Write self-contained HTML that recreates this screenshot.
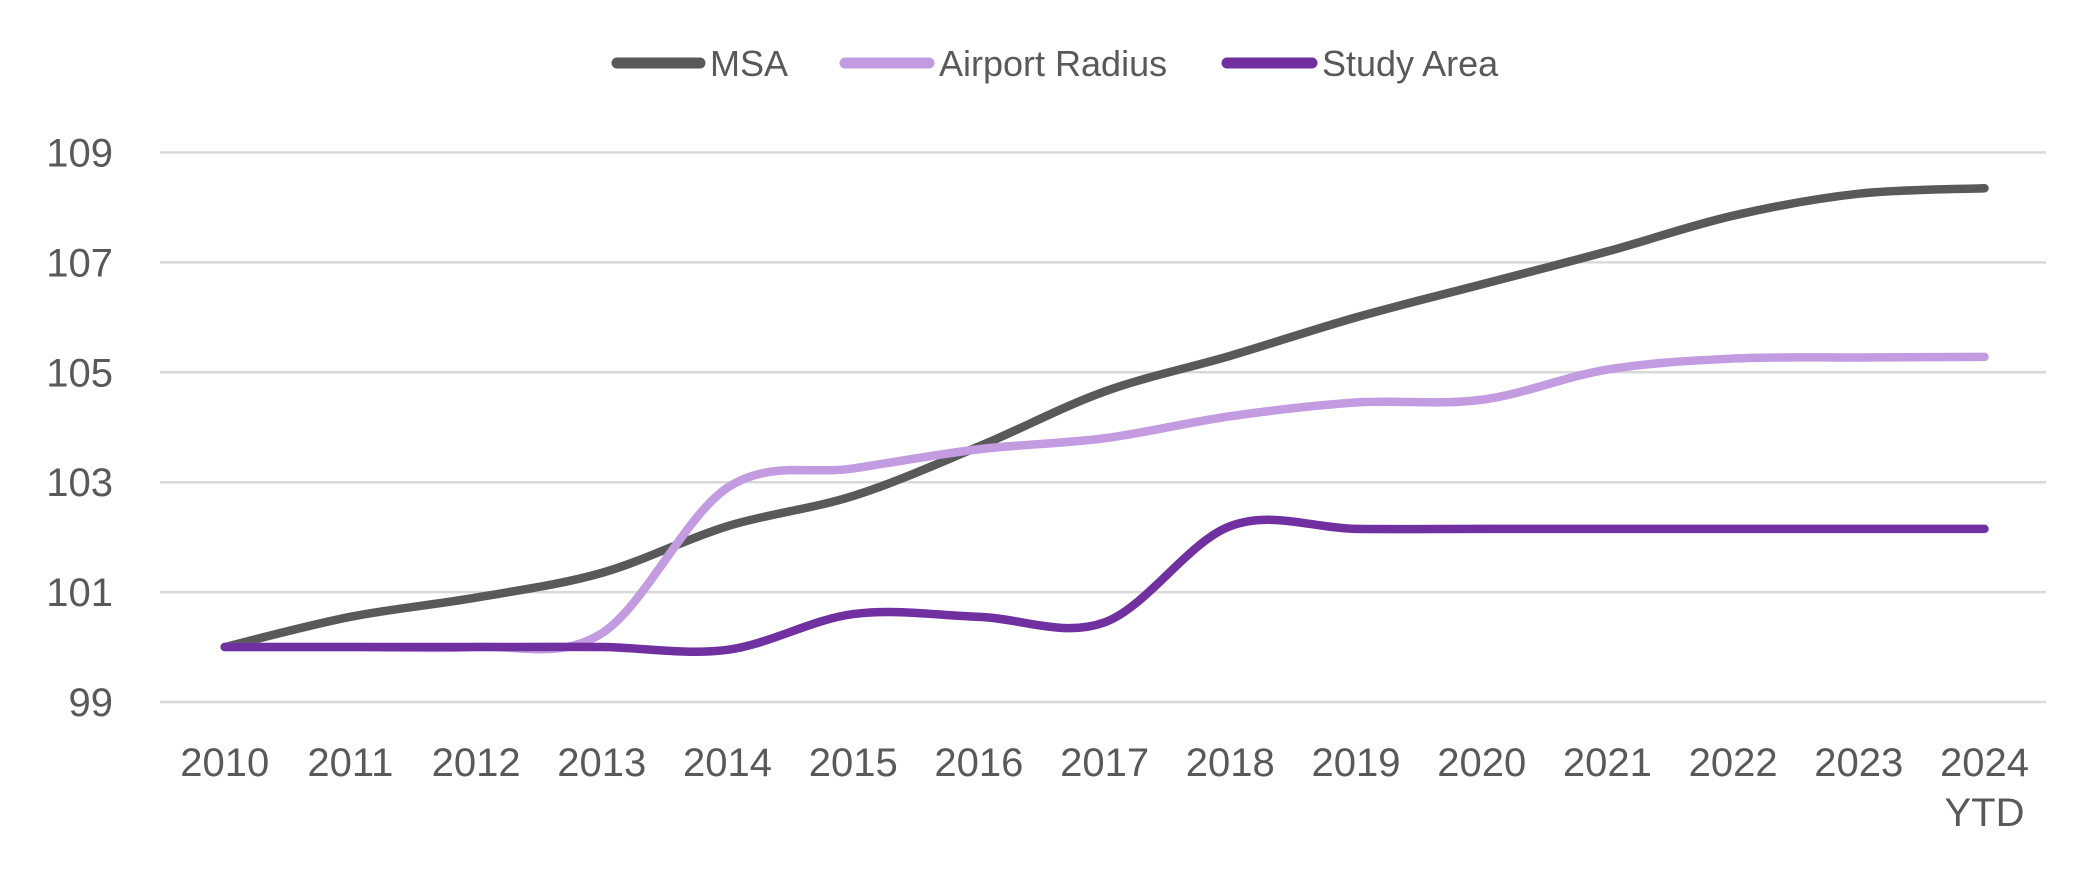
<!DOCTYPE html>
<html><head><meta charset="utf-8"><style>
html,body{margin:0;padding:0;background:#fff;}
svg{display:block;font-family:"Liberation Sans",sans-serif;}
</style></head><body>
<svg id="chart" width="2097" height="870">
  <g id="legend">
    <g>
      <line x1="617" y1="63" x2="700" y2="63" stroke="#595959" stroke-width="11" stroke-linecap="round"/>
      <text x="710" y="76" font-size="36" fill="#595959">MSA</text>
    </g>
    <g>
      <line x1="845" y1="63" x2="929" y2="63" stroke="#c39be0" stroke-width="11" stroke-linecap="round"/>
      <text x="939" y="76" font-size="36" fill="#595959">Airport Radius</text>
    </g>
    <g>
      <line x1="1227" y1="63" x2="1312" y2="63" stroke="#7030a0" stroke-width="11" stroke-linecap="round"/>
      <text x="1322" y="76" font-size="36" fill="#595959">Study Area</text>
    </g>
  </g>
  <g id="grid"></g>
  <g id="yaxis"></g>
  <g id="xaxis"></g>
  <g id="series"></g>
</svg>
<script>
const categories = ["2010","2011","2012","2013","2014","2015","2016","2017","2018","2019","2020","2021","2022","2023","2024"];
const yTicks = [99,101,103,105,107,109];
const msa = [100,100.55,100.9,101.35,102.2,102.75,103.65,104.65,105.3,106.0,106.6,107.2,107.85,108.25,108.35];
const airport = [100,100,100,100.25,102.9,103.25,103.6,103.8,104.2,104.45,104.5,105.05,105.25,105.27,105.28];
const study = [100,100,100,100,99.95,100.6,100.55,100.45,102.2,102.15,102.15,102.15,102.15,102.15,102.15];

const NS="http://www.w3.org/2000/svg";
const left=160, right=2046, x0=224.7, step=125.7;
const yTop=152.5, yBot=702, vTop=109, vBot=99;
const xs=i=>x0+i*step;
const ys=v=>yBot-(v-vBot)/(vTop-vBot)*(yBot-yTop);
function mk(t,a,p){const e=document.createElementNS(NS,t);for(const k in a)e.setAttribute(k,a[k]);p.appendChild(e);return e;}
const grid=document.getElementById('grid'), ya=document.getElementById('yaxis'), xa=document.getElementById('xaxis'), ser=document.getElementById('series');
yTicks.forEach(v=>{
  const l=mk('line',{x1:left,x2:right,y1:ys(v),y2:ys(v),stroke:'#d9d9d9','stroke-width':2.5},grid);
  
  
  const t=mk('text',{x:113,y:ys(v)+14,'text-anchor':'end','font-size':40,fill:'#595959'},ya);
  t.textContent=v;
  
  
});
categories.forEach((c,i)=>{
  const t=mk('text',{x:xs(i),y:776,'text-anchor':'middle','font-size':40,fill:'#595959'},xa);
  t.textContent=c;
  
  
});
const ytd=mk('text',{x:xs(categories.length-1),y:826,'text-anchor':'middle','font-size':40,fill:'#595959'},xa);
ytd.textContent='YTD';


function path(vals){
  const p=vals.map((v,i)=>[xs(i),ys(v)]);
  let d=`M${p[0][0]},${p[0][1]}`;
  for(let i=0;i<p.length-1;i++){
    const p0=p[Math.max(0,i-1)],p1=p[i],p2=p[i+1],p3=p[Math.min(p.length-1,i+2)];
    const c1=[p1[0]+(p2[0]-p0[0])/6,p1[1]+(p2[1]-p0[1])/6];
    const c2=[p2[0]-(p3[0]-p1[0])/6,p2[1]-(p3[1]-p1[1])/6];
    d+=` C${c1[0]},${c1[1]} ${c2[0]},${c2[1]} ${p2[0]},${p2[1]}`;
  }
  return d;
}
const sMsa=mk('path',{d:path(msa),fill:'none',stroke:'#595959','stroke-width':8.5,'stroke-linecap':'round'},ser);


const sAir=mk('path',{d:path(airport),fill:'none',stroke:'#c39be0','stroke-width':8.5,'stroke-linecap':'round'},ser);


const sStudy=mk('path',{d:path(study),fill:'none',stroke:'#7030a0','stroke-width':8.5,'stroke-linecap':'round'},ser);


</script>
</body></html>
